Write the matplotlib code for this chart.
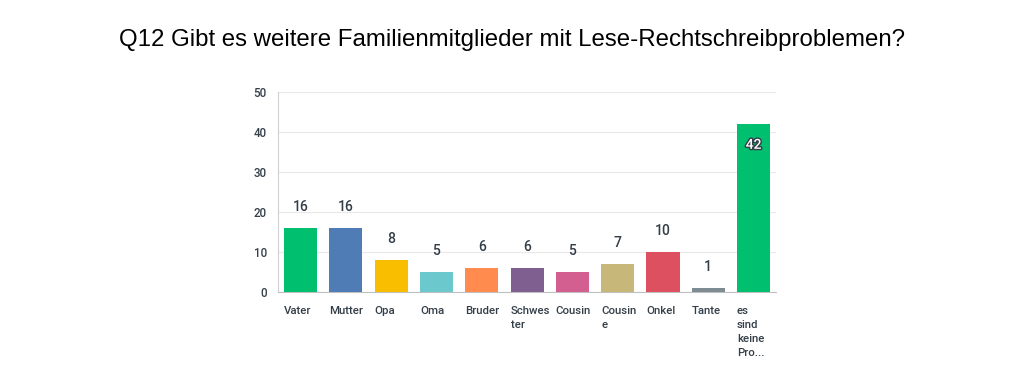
import matplotlib.pyplot as plt
import matplotlib.patheffects as pe
from matplotlib.transforms import blended_transform_factory

categories = ['Vater', 'Mutter', 'Opa', 'Oma', 'Bruder', 'Schwes\nter', 'Cousin',
              'Cousin\ne', 'Onkel', 'Tante', 'es\nsind\nkeine\nPro...']
values = [16, 16, 8, 5, 6, 6, 5, 7, 10, 1, 42]
colors = ['#00bf6f', '#507cb6', '#f9be00', '#6bc8cd', '#ff8b4f', '#7f5f90',
          '#d25f90', '#c7b879', '#dc505f', '#7f8b93', '#00bf6f']

txt = '#333e48'
plt.rcParams['font.family'] = ['Roboto', 'DejaVu Sans']

fig = plt.figure(figsize=(10.24, 3.75), dpi=100)
ax = fig.add_axes([0.2715, 0.2213, 0.4865, 0.5334])

w = 0.73
x = list(range(len(values)))
ax.bar(x, values, width=w, color=colors, zorder=3)
ax.set_xlim(-0.5, len(values) - 0.5)
ax.set_ylim(0, 50)
ax.set_yticks([0, 10, 20, 30, 40, 50])
ax.tick_params(axis='y', length=0, labelsize=8.3, labelcolor=txt, pad=8)
for lab in ax.get_yticklabels():
    lab.set_fontweight('medium')
ax.set_xticks([])
ax.grid(axis='y', color='#e8e8e8', linewidth=0.8, zorder=0)
for s in ['top', 'right']:
    ax.spines[s].set_visible(False)
ax.spines['left'].set_color('#d0d0d0')
ax.spines['bottom'].set_color('#c0c0c0')

tr = blended_transform_factory(ax.transData, ax.transAxes)
for i, (c, v) in enumerate(zip(categories, values)):
    ax.text(i - w / 2, -0.072, c, transform=tr, ha='left', va='top',
            fontsize=8.2, color=txt, fontweight='medium', linespacing=1.5)
    if v > 30:
        t = ax.annotate(str(v), (i, v), xytext=(0, -15), textcoords='offset points',
                        ha='center', va='center', fontsize=10, color='white',
                        fontweight='medium', zorder=4)
        t.set_path_effects([pe.withStroke(linewidth=2, foreground=txt)])
    else:
        ax.annotate(str(v), (i, v), xytext=(0, 15), textcoords='offset points',
                    ha='center', va='center', fontsize=10, color=txt,
                    fontweight='medium', zorder=4)

fig.text(0.5, 0.893, 'Q12 Gibt es weitere Familienmitglieder mit Lese-Rechtschreibproblemen?',
         ha='center', va='center', fontsize=17.3, color='black', family='Liberation Sans')

fig.savefig('out.png', dpi=100)
